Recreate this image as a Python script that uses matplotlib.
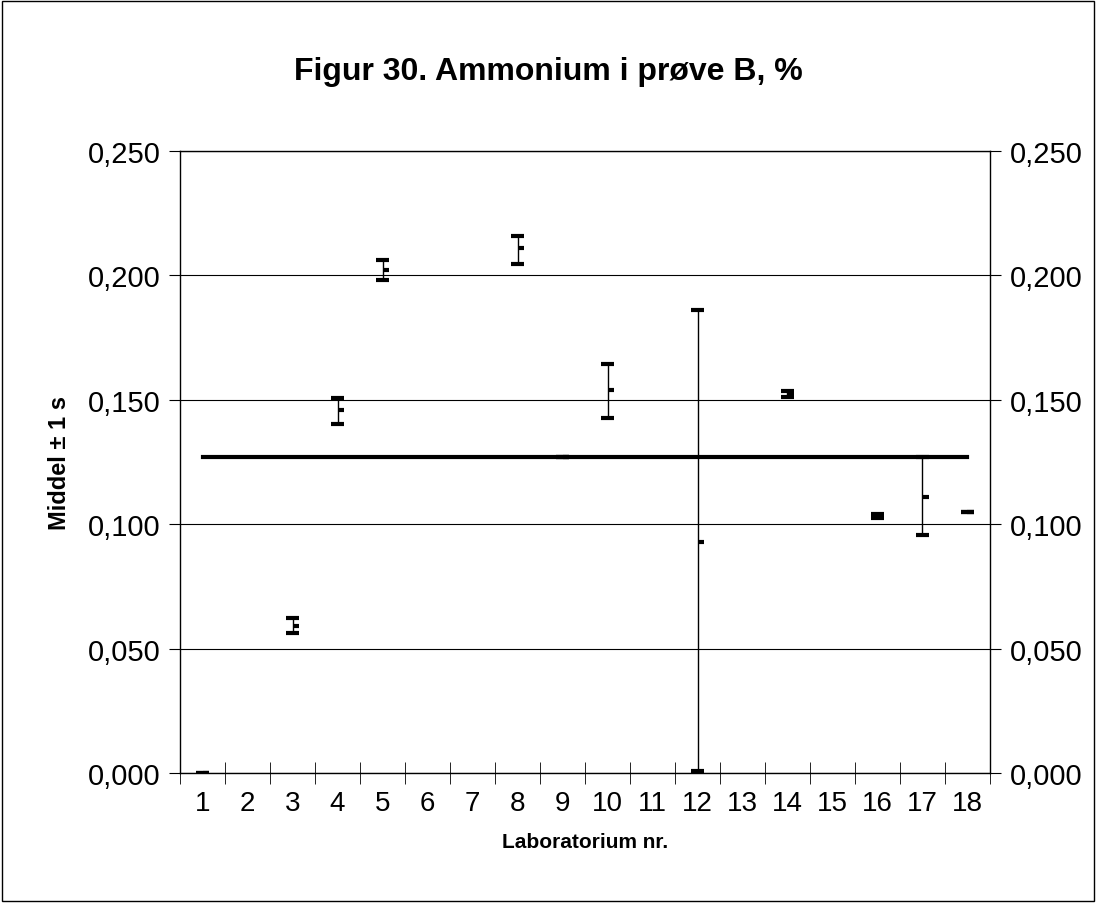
import matplotlib
matplotlib.use("Agg")
import matplotlib.pyplot as plt
import numpy as np

labels = ["1","2","3","4","5","6","7","8","9","10","11","12","13","14","15","16","17","18"]
labs   = ["1","3","4","5","8","9","10","12","14","16","17","18"]
mean   = [0.0000,0.0591,0.1459,0.2022,0.2110,0.1270,0.1540,0.0930,0.1524,0.1030,0.1110,0.1050]
low    = [0.0000,0.0563,0.1403,0.1982,0.2046,0.1270,0.1427,0.0010,0.1512,0.1025,0.0955,0.1050]
high   = [0.0000,0.0623,0.1506,0.2060,0.2160,0.1270,0.1644,0.1861,0.1536,0.1040,0.1270,0.1050]
ref_value = 0.127

plt.rcParams['font.family'] = ['Liberation Sans', 'DejaVu Sans']
fig = plt.figure(figsize=(10.96, 9.04), dpi=100)
fig.patches.append(plt.Rectangle((0.002,0.002),0.996,0.996,transform=fig.transFigure,fill=False,lw=1,ec='black'))
ax = fig.add_axes([180/1096, 1-774/904, 810/1096, 622/904])
x = np.arange(len(labels))
xi = [labels.index(l) for l in labs]
for xx, m, lo, hi in zip(xi, mean, low, high):
    ax.plot([xx,xx],[lo,hi],color='black',lw=1)
    for v in (lo,hi):
        ax.plot([xx-0.15,xx+0.15],[v,v],color='black',lw=3,solid_capstyle='butt')
    ax.plot([xx,xx+0.15],[m,m],color='black',lw=3,solid_capstyle='butt')
ax.plot([0,len(labels)-1],[ref_value,ref_value],color='black',lw=3)
ax.set_xlim(-0.5,len(labels)-0.5)
ax.set_ylim(0,0.25)
yt = np.arange(0,0.2501,0.05)
ax.set_yticks(yt)
ax.set_yticklabels([f"{v:.3f}".replace('.',',') for v in yt], fontsize=21)
ax.yaxis.grid(True,color='black',lw=0.8)
ax.set_xticks(x)
ax.set_xticklabels(labels, fontsize=20)
ax.tick_params(axis='x',length=0,pad=12)
ax.set_xticks(np.arange(-0.5,len(labels)),minor=True)
ax.tick_params(axis='x',which='minor',direction='inout',length=16)
ax.tick_params(axis='y',direction='out',length=8,pad=6,right=True,labelright=True)
for s in ax.spines.values(): s.set_linewidth(1)
ax.set_ylabel("Middel ± 1 s",fontsize=17,fontweight='bold',labelpad=12)
ax.set_xlabel("Laboratorium nr.",fontsize=15,fontweight='bold',labelpad=12)
fig.text(0.5,1-72/904,"Figur 30. Ammonium i prøve B, %",ha='center',va='center',fontsize=23,fontweight='bold')
fig.savefig("out.png",dpi=100)
